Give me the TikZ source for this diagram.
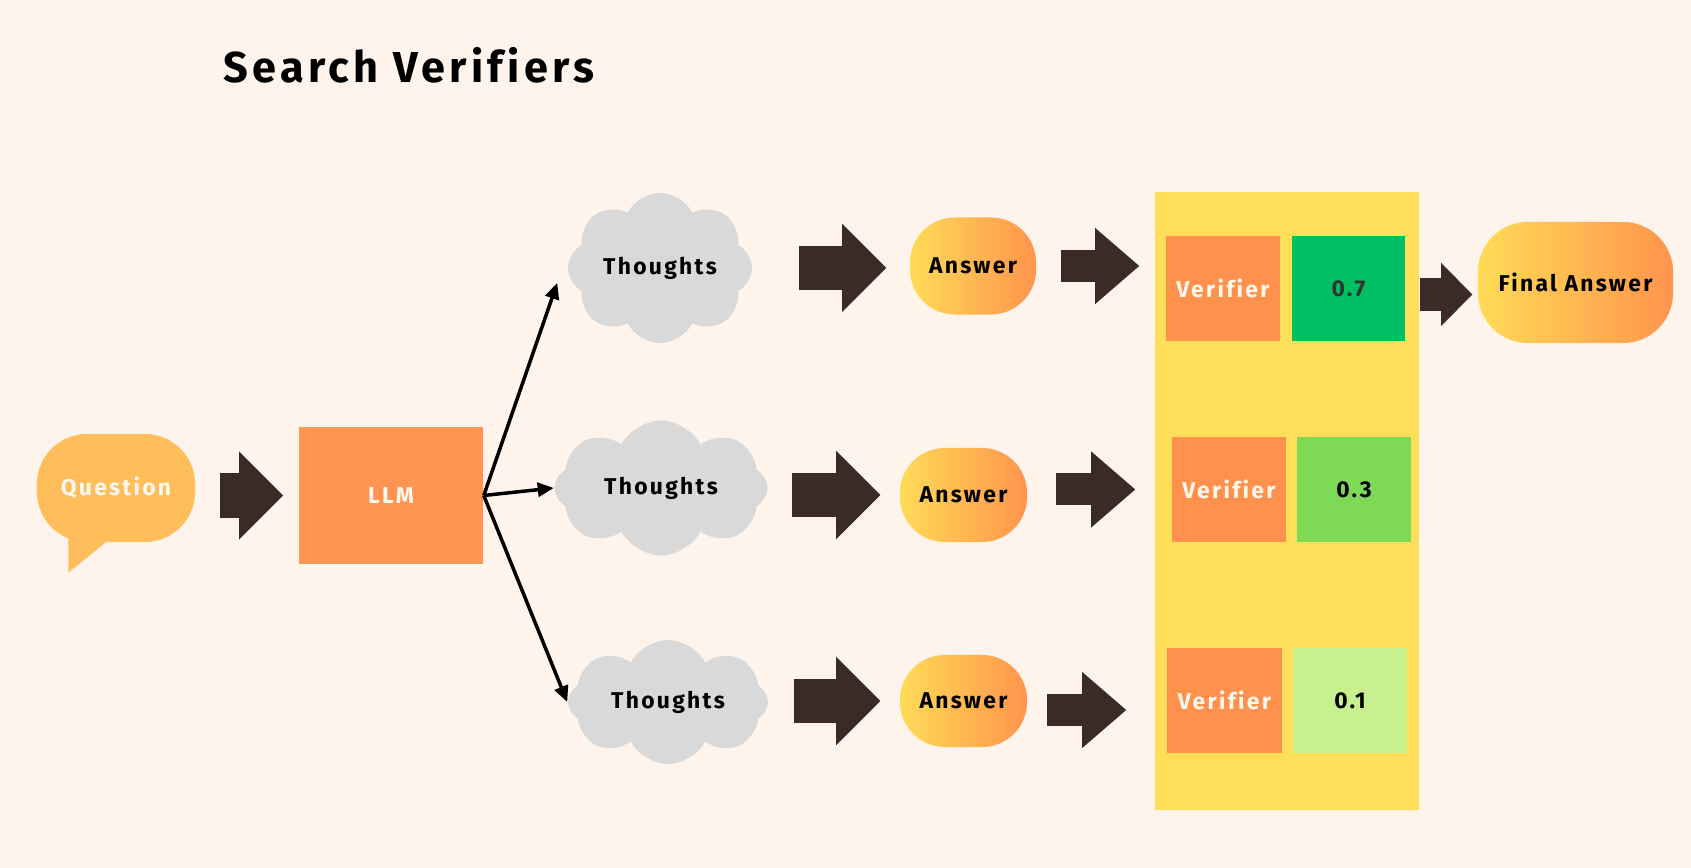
\documentclass[tikz,border=0pt]{standalone}
\usepackage{fontspec}
\setmainfont{Fira Sans}[LetterSpace=10, Ligatures=NoCommon]
\usetikzlibrary{shapes.symbols, arrows.meta, positioning}
\definecolor{BgCream}{HTML}{FEF4EC}
\definecolor{QuesFill}{HTML}{FFBE5B}
\definecolor{LlmFill}{HTML}{FF9550}
\definecolor{VerFill}{HTML}{FF914D}
\definecolor{PanelFill}{HTML}{FFDE59}
\definecolor{ScoreHi}{HTML}{00BF63}
\definecolor{ScoreMid}{HTML}{7ED957}
\definecolor{ScoreLo}{HTML}{C9F08F}
\definecolor{CloudGray}{HTML}{D9D9D9}
\definecolor{BlockDark}{HTML}{3A2B27}
\definecolor{AnsLeft}{HTML}{FFDB56}
\definecolor{AnsRight}{HTML}{FF944D}
\definecolor{SoftWhite}{HTML}{FFF8EE}

\begin{document}
\begin{tikzpicture}[
  x=0.01cm, y=-0.01cm,
  every node/.style={font=\fontsize{6.5}{8}\selectfont\bfseries, inner sep=0pt},
  bubble/.style={rectangle, rounded corners=0.5cm, fill=QuesFill, text=SoftWhite,
    minimum width=1.58cm, minimum height=1.08cm},
  llmbox/.style={rectangle, fill=LlmFill, text=SoftWhite,
    minimum width=1.84cm, minimum height=1.37cm},
  thought/.style={cloud, cloud puffs=8, cloud puff arc=125, cloud ignores aspect,
    fill=CloudGray, text=black},
  answer/.style={rectangle, rounded corners=0.45cm, left color=AnsLeft, right color=AnsRight,
    text=black, minimum width=1.27cm, minimum height=0.94cm},
  verbox/.style={rectangle, fill=VerFill, text=SoftWhite,
    minimum width=1.14cm, minimum height=1.05cm},
  score/.style={rectangle, minimum width=1.13cm, minimum height=1.05cm, text=black},
  bigarr/.style={draw=BlockDark, line width=0.44cm,
    -{Triangle[length=0.44cm, width=0.88cm, line width=0pt]}},
  smallarr/.style={draw=BlockDark, line width=0.32cm,
    -{Triangle[length=0.44cm, width=0.76cm, line width=0pt]}},
  finarr/.style={draw=BlockDark, line width=0.32cm,
    -{Triangle[length=0.31cm, width=0.63cm, line width=0pt]}},
  thinarr/.style={draw=black, line width=0.035cm,
    -{Triangle[length=0.16cm, width=0.14cm]}},
]

\fill[BgCream] (0,0) rectangle (1691,868);
\useasboundingbox (0,0) rectangle (1691,868);

% title
\node[anchor=base west, font=\fontsize{12.3}{15}\selectfont\bfseries] (title) at (223,83)
  {Search Verifiers};

% question and model
\node[bubble] (ques) at (116,488) {Question};
\fill[QuesFill] ([xshift=0.32cm, yshift=0.2cm]ques.south west)
  -- ([xshift=0.32cm, yshift=-0.30cm]ques.south west)
  -- ([xshift=0.69cm]ques.south west)
  -- ([xshift=0.69cm, yshift=0.2cm]ques.south west) -- cycle;
\node[llmbox] (llm) at (391,495.5) {LLM};

% thoughts
\node[thought, minimum width=1.84cm, minimum height=1.50cm] (th1) at (660,268) {Thoughts};
\node[thought, minimum width=2.13cm, minimum height=1.35cm] (th2) at (661,488) {Thoughts};
\node[thought, minimum width=2.00cm, minimum height=1.24cm] (th3) at (668,702) {Thoughts};

% answers
\node[answer, minimum width=1.26cm, minimum height=0.97cm] (ans1) at (973,266) {Answer};
\node[answer] (ans2) at (963.5,495) {Answer};
\node[answer, minimum height=0.92cm] (ans3) at (963.5,701) {Answer};

% verifier panel
\node[rectangle, fill=PanelFill, minimum width=2.64cm, minimum height=6.18cm] (panel) at (1287,501) {};
\node[verbox] (ver1) at (1223,288.5) {Verifier};
\node[score, fill=ScoreHi, text=black!80] (sc1) at (1348.5,288.5) {0.7};
\node[verbox] (ver2) at (1229,489.5) {Verifier};
\node[score, fill=ScoreMid] (sc2) at (1354,489.5) {0.3};
\node[verbox] (ver3) at (1224.5,700.5) {Verifier};
\node[score, fill=ScoreLo] (sc3) at (1350,700.5) {0.1};

\node[answer, rounded corners=0.5cm, minimum width=1.95cm, minimum height=1.21cm] (fin) at (1575.5,282.5) {Final Answer};

% block arrows
\draw[bigarr, shorten <=0.24cm, shorten >=0.15cm] (ques.east |- llm.west) -- (llm.west);
\draw[bigarr, shorten <=0.46cm, shorten >=0.23cm] (th1.east) -- (th1.east -| ans1.west);
\draw[bigarr, shorten <=0.24cm, shorten >=0.19cm] (th2.east |- ans2.west) -- (ans2.west);
\draw[bigarr, shorten <=0.25cm, shorten >=0.19cm] (th3.east |- ans3.west) -- (ans3.west);
\draw[smallarr, shorten <=0.24cm, shorten >=0.15cm] (ans1.east) -- (ans1.east -| panel.west);
\draw[smallarr, shorten <=0.28cm, shorten >=0.19cm] (ans2.east |- ver2.west) -- (ver2.west -| panel.west);
\draw[smallarr, shorten <=0.19cm, shorten >=0.28cm] ([yshift=-0.09cm]ans3.east) -- ([yshift=-0.09cm]ans3.east -| panel.west);
\draw[finarr, shorten >=0.05cm] ([yshift=-0.12cm]panel.east |- fin.west) -- ([yshift=-0.12cm]fin.west);

% fan out from the model
\draw[thinarr] (llm.east) -- ([shift={(-10,15)}]th1.west);
\draw[thinarr] (llm.east) -- (th2.west);
\draw[thinarr] (llm.east) -- (th3.west);

\end{tikzpicture}
\end{document}
